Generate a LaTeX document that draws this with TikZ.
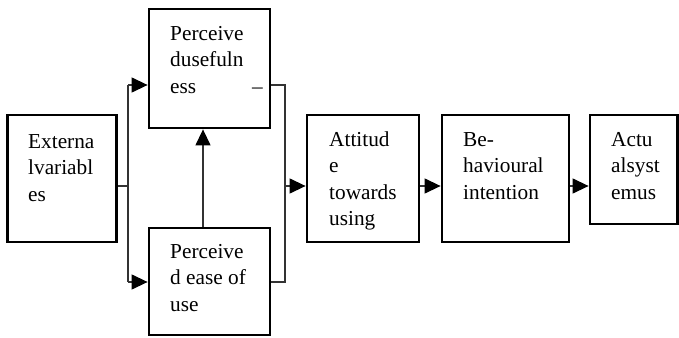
\documentclass[tikz,border=0pt]{standalone}
\usepackage{fontspec}
\setmainfont{Liberation Serif}
\usetikzlibrary{arrows.meta,calc}
\begin{document}
\begin{tikzpicture}[x=1pt,y=-1pt,
  box/.style={draw,line width=2.8pt,rectangle,inner sep=0pt},
  txt/.style={anchor=north west,align=left,inner sep=0pt,
    font=\fontsize{21.3}{26.5}\selectfont},
  link/.style={draw=black!80,line width=1.3pt},
  arr/.style={link,-{Triangle[length=16pt,width=15pt,black]}}]
\useasboundingbox (0,0) rectangle (679,337);
% boxes
\node[box,minimum width=109pt,minimum height=127pt] (ext) at (62,178.5) {};
\node[box,minimum width=121pt,minimum height=119pt] (pu) at (209.5,68.5) {};
\node[box,minimum width=121pt,minimum height=107pt] (peu) at (209.5,281.5) {};
\node[box,minimum width=112pt,minimum height=127pt] (att) at (363,178.5) {};
\node[box,minimum width=127pt,minimum height=127pt] (beh) at (505.5,178.5) {};
\node[box,minimum width=87.5pt,minimum height=109pt] (act) at (633.75,169.5) {};
% labels
\newcommand{\tstrut}{\rule{0pt}{15pt}}
\node[txt] (extT) at (28,133) {\tstrut Externa\\lvariabl\\es};
\node[txt] (puT) at (170,25) {\tstrut Perceive\\dusefuln\\ess};
\node[txt,anchor=base west] (puD) at (252,93) {–};
\node[txt] (peuT) at (170,243) {\tstrut Perceive\\d ease of\\use};
\node[txt] (attT) at (329,131) {\tstrut Attitud\\e\\towards\\using};
\node[txt] (behT) at (463,131) {\tstrut Be-\\havioural\\intention};
\node[txt] (actT) at (611,131) {\tstrut Actu\\alsyst\\emus};
% connector junctions
\coordinate (lm) at (128,186);
\coordinate (lt) at (128,85);
\coordinate (lb) at (128,282);
\coordinate (rm) at (285,186);
\coordinate (rt) at (285,85);
\coordinate (rb) at (285,282);
\coordinate (vx) at (203,0);
% connectors
\draw[link] (ext.east |- lm) -- (lm);
\draw[link] (lt) -- (lb);
\draw[arr] (lt) -- (pu.west |- lt);
\draw[arr] (lb) -- (peu.west |- lb);
\draw[arr] (peu.north -| vx) -- (pu.south -| vx);
\draw[link] (pu.east |- rt) -- (rt) -- (rb) -- (peu.east |- rb);
\draw[arr] (rm) -- (att.west |- rm);
\draw[arr] (att.east |- rm) -- (beh.west |- rm);
\draw[arr] (beh.east |- rm) -- (act.west |- rm);
\end{tikzpicture}
\end{document}
